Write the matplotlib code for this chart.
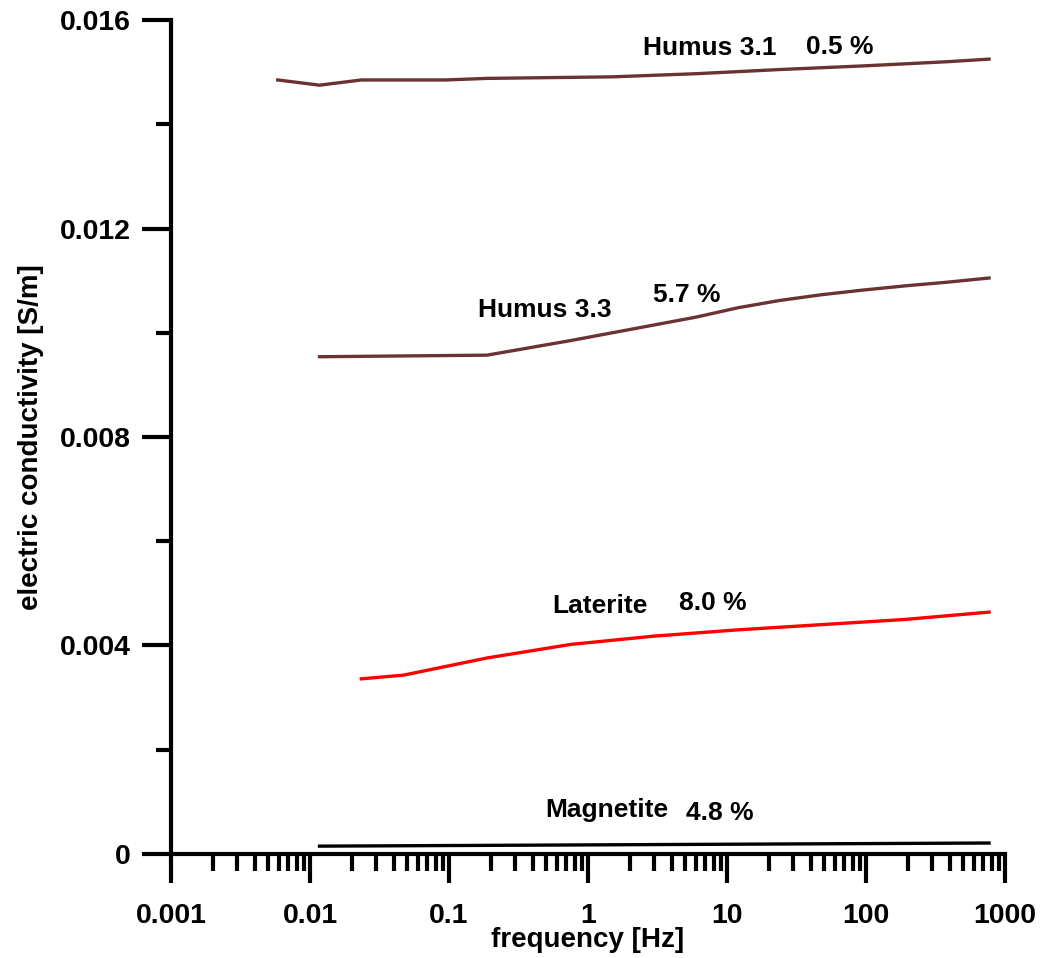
import matplotlib
matplotlib.use("Agg")
import matplotlib.pyplot as plt
from matplotlib.ticker import LogLocator, NullFormatter, MultipleLocator

plt.rcParams["font.family"] = ["Liberation Sans", "DejaVu Sans"]
plt.rcParams["font.weight"] = "bold"

# DATA
freq_h31 = [0.00586, 0.0117, 0.0234, 0.0938, 0.1875, 1.5, 6, 24, 96, 384, 768]
cond_h31 = [0.01485, 0.01475, 0.01485, 0.01485, 0.01488, 0.01491, 0.01497,
            0.01505, 0.01512, 0.01520, 0.01525]

freq_h33 = [0.0117, 0.1875, 0.75, 1.5, 3, 6, 12, 24, 48, 96, 192, 384, 768]
cond_h33 = [0.00954, 0.00957, 0.00985, 0.0100, 0.01015, 0.0103, 0.01048,
            0.01062, 0.01073, 0.01082, 0.0109, 0.01097, 0.01105]

freq_lat = [0.0234, 0.0469, 0.1875, 0.75, 3, 12, 48, 192, 768]
cond_lat = [0.00336, 0.00343, 0.00376, 0.00402, 0.00418, 0.00430, 0.00440,
            0.00450, 0.00464]

freq_mag = [0.0117, 768]
cond_mag = [0.00015, 0.00021]

x_ticks = [0.001, 0.01, 0.1, 1, 10, 100, 1000]
x_labels = ["0.001", "0.01", "0.1", "1", "10", "100", "1000"]
y_ticks = [0, 0.004, 0.008, 0.012, 0.016]
y_labels = ["0", "0.004", "0.008", "0.012", "0.016"]

BROWN = "#6B3232"

fig = plt.figure(figsize=(10.41, 9.58), dpi=100)
ax = fig.add_axes([0.1643, 0.1086, 0.8011, 0.8705])

ax.plot(freq_h31, cond_h31, color=BROWN, lw=2.4)
ax.plot(freq_h33, cond_h33, color=BROWN, lw=2.4)
ax.plot(freq_lat, cond_lat, color="#FF0000", lw=2.4)
ax.plot(freq_mag, cond_mag, color="black", lw=2.4)

# curve labels
txt = dict(fontsize=19, fontweight="bold", ha="center", va="center")
ax.text(7.5, 0.01546, "Humus 3.1", **txt)
ax.text(65, 0.01548, "0.5 %", **txt)
ax.text(0.49, 0.01044, "Humus 3.3", **txt)
ax.text(5.15, 0.01072, "5.7 %", **txt)
ax.text(1.22, 0.00476, "Laterite", **txt)
ax.text(7.9, 0.00482, "8.0 %", **txt)
ax.text(1.37, 0.00084, "Magnetite", **txt)
ax.text(8.9, 0.00079, "4.8 %", **txt)

ax.set_xscale("log")
ax.set_xlim(0.001, 1000)
ax.set_ylim(0, 0.016)

ax.set_xticks(x_ticks)
ax.set_xticklabels(x_labels)
ax.xaxis.set_minor_locator(LogLocator(base=10, subs=range(2, 10)))
ax.xaxis.set_minor_formatter(NullFormatter())
ax.set_yticks(y_ticks)
ax.set_yticklabels(y_labels)
ax.yaxis.set_minor_locator(MultipleLocator(0.002))

for s in ["top", "right"]:
    ax.spines[s].set_visible(False)
for s in ["left", "bottom"]:
    ax.spines[s].set_linewidth(3)

ax.tick_params(axis="both", which="major", width=3, labelsize=20.5)
ax.tick_params(axis="x", which="major", length=21, pad=14)
ax.tick_params(axis="x", which="minor", length=12, width=3)
ax.tick_params(axis="y", which="major", length=21, pad=8)
ax.tick_params(axis="y", which="minor", length=11, width=3)
for lab in ax.get_xticklabels() + ax.get_yticklabels():
    lab.set_fontweight("bold")

ax.set_xlabel("frequency [Hz]", fontsize=20, fontweight="bold", labelpad=-1)
ax.set_ylabel("electric conductivity [S/m]", fontsize=20, fontweight="bold",
              labelpad=11)

fig.savefig("out.png", dpi=100)
